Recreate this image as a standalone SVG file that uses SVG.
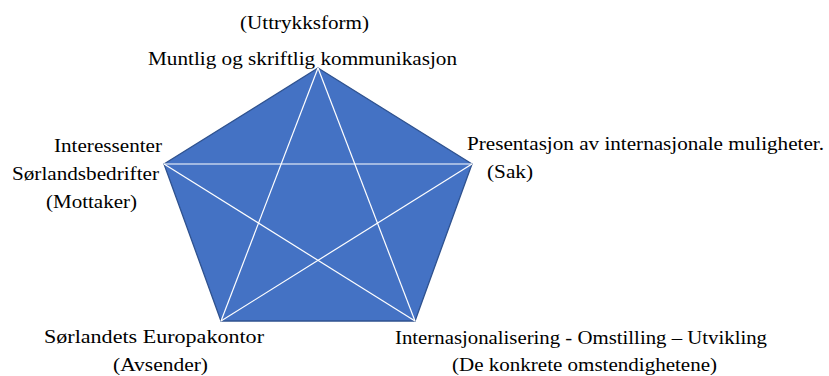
<svg xmlns="http://www.w3.org/2000/svg" width="829" height="376" viewBox="0 0 829 376">
<style>
text{font-family:'Liberation Serif','DejaVu Serif',serif;font-size:18px;fill:#000}
.star{stroke:#fff;stroke-width:1.2;fill:none}
</style>
<rect width="829" height="376" fill="#fff"/>
<g id="pentagon">
<polygon points="318,68 472,164 415,321 221,321 164,164" fill="#4472C4" stroke="#2F528F" stroke-width="1.3" stroke-linejoin="miter"/>
</g>
<g id="connectors">
<line class="star" x1="318" y1="68" x2="221" y2="321"/>
<line class="star" x1="318" y1="68" x2="415" y2="321"/>
<line class="star" x1="164" y1="164" x2="472" y2="164"/>
<line class="star" x1="164" y1="164" x2="415" y2="321"/>
<line class="star" x1="472" y1="164" x2="221" y2="321"/>
</g>
<g id="node-top" font-family="Liberation Serif, serif">
<text x="240" y="29" textLength="129" lengthAdjust="spacingAndGlyphs">(Uttrykksform)</text>
<text x="148" y="65" textLength="309" lengthAdjust="spacingAndGlyphs">Muntlig og skriftlig kommunikasjon</text>
</g>
<g id="node-left">
<text x="54" y="152" textLength="108" lengthAdjust="spacingAndGlyphs">Interessenter</text>
<text x="12" y="180" textLength="147" lengthAdjust="spacingAndGlyphs">Sørlandsbedrifter</text>
<text x="46" y="208" textLength="91" lengthAdjust="spacingAndGlyphs">(Mottaker)</text>
</g>
<g id="node-right">
<text x="467" y="150" textLength="357" lengthAdjust="spacingAndGlyphs">Presentasjon av internasjonale muligheter.</text>
<text x="487" y="178" textLength="46" lengthAdjust="spacingAndGlyphs">(Sak)</text>
</g>
<g id="node-bottom-left">
<text x="44" y="343" textLength="220" lengthAdjust="spacingAndGlyphs">Sørlandets Europakontor</text>
<text x="113" y="371" textLength="95" lengthAdjust="spacingAndGlyphs">(Avsender)</text>
</g>
<g id="node-bottom-right">
<text x="395" y="344" textLength="372" lengthAdjust="spacingAndGlyphs">Internasjonalisering - Omstilling – Utvikling</text>
<text x="452" y="371" textLength="265" lengthAdjust="spacingAndGlyphs">(De konkrete omstendighetene)</text>
</g>
</svg>
